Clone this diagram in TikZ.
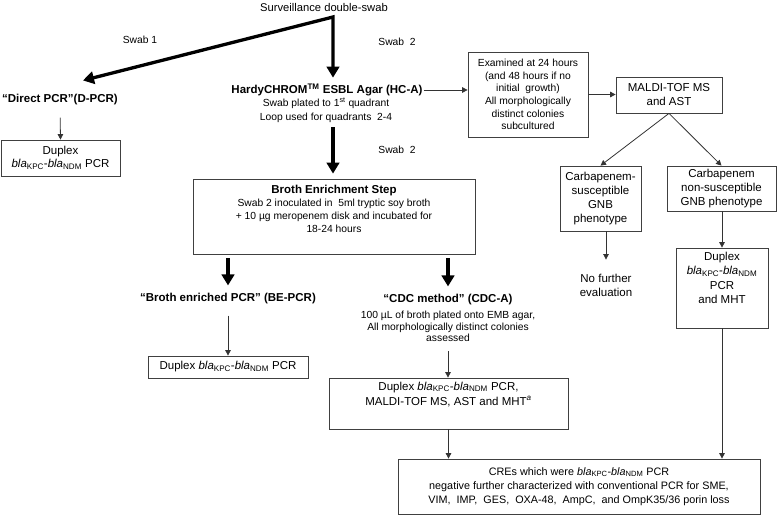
\documentclass[tikz,border=0pt]{standalone}
\usepackage{fontspec}
\setmainfont{Liberation Sans}
\usetikzlibrary{arrows.meta}
\newcommand\fsz[2]{\fontsize{#1}{#2}\selectfont}
\newcommand\bkn{\textit{bla}\textsubscript{KPC}-\textit{bla}\textsubscript{NDM}}
\begin{document}
\begin{tikzpicture}[x=1pt,y=-1pt,
  box/.style={draw=black!75, line width=0.75pt, inner sep=0pt},
  tx/.style={inner sep=1pt, align=center, text=black},
  big/.style={font=\fsz{11.5}{14}},
  sml/.style={font=\fsz{10.3}{13}},
  ttl/.style={font=\bfseries\fsz{11.5}{14}},
  thin/.style={draw=black!80, line width=0.8pt, -{Triangle[length=5.5pt,width=5.5pt]}},
  thk/.style={draw=black, line width=3.3pt, -{Triangle[length=11pt,width=12.5pt]}}]
\useasboundingbox (0,0) rectangle (777,519);

% texts
\node[tx, font=\fsz{11.2}{14}] (surv) at (324,7) {Surveillance double-swab};
\coordinate (sp) at ([xshift=9pt,yshift=-10pt]surv.center);
\node[tx, sml] (s1) at (140,40) {Swab 1};
\node[tx, sml] (s2a) at (397,42) {Swab\ \ 2};
\node[tx, sml] (s2b) at (397,150) {Swab\ \ 2};

\node[tx, ttl] (dpcr) at (60,100) {“Direct PCR”(D-PCR)};
\node[box, tx, big, minimum width=119pt, minimum height=36pt, font=\fsz{11.5}{13.5}] (dbox) at (60.5,158) {Duplex\\\bkn{} PCR};

\node[tx, ttl] (hca) at (327,90) {HardyCHROM\textsuperscript{TM} ESBL Agar (HC-A)};
\node[tx, sml, font=\fsz{10.3}{14}] (hcasub) at (326,110) {Swab plated to 1\textsuperscript{st} quadrant\\Loop used for quadrants\ \ 2-4};

\node[box, tx, sml, font=\fsz{10.3}{12.7}, minimum width=120pt, minimum height=85pt] (exam) at (528,94.5)
  {Examined at 24 hours\\(and 48 hours if no\\initial\ \ growth)\\All morphologically\\distinct colonies\\subcultured};
\node[box, tx, big, minimum width=106pt, minimum height=36pt] (maldi) at (669,95) {MALDI-TOF MS\\and AST};

\node[box, tx, font=\fsz{11.5}{14.3}, minimum width=81pt, minimum height=65pt] (csus) at (600.5,198.5)
  {Carbapenem-\\susceptible\\GNB\\phenotype};
\node[box, tx, font=\fsz{11.5}{14.3}, minimum width=109pt, minimum height=45pt] (cns) at (721.5,188.5)
  {Carbapenem\\non-susceptible\\GNB phenotype};
\node[tx, big] (nofur) at (606,285) {No further\\evaluation};
\node[box, minimum width=92pt, minimum height=80pt] (dupr) at (722,288) {};
\node[tx, font=\fsz{11.5}{14.5}, anchor=north] (duprtxt) at ([yshift=-3pt]dupr.north) {Duplex\\\bkn\\PCR\\and MHT};

\node[box, minimum width=282pt, minimum height=75pt] (broth) at (334,216.5) {};
\node[tx, ttl] (brothttl) at (334,191) {Broth Enrichment Step};
\node[tx, sml, font=\fsz{10.3}{13}] (brothsub) at (334,216)
  {Swab 2 inoculated in\ \ 5ml tryptic soy broth\\+ 10 µg meropenem disk and incubated for\\18-24 hours};

\node[tx, ttl] (bepcr) at (228,299) {“Broth enriched PCR” (BE-PCR)};
\node[tx, ttl] (cdc) at (448,300) {“CDC method” (CDC-A)};
\node[tx, font=\fsz{10.3}{11.7}] (cdcsub) at (448,326.5)
  {100 µL of broth plated onto EMB agar,\\All morphologically distinct colonies\\assessed};
\node[box, tx, big, minimum width=160pt, minimum height=22pt] (dupl) at (228,367) {Duplex \bkn{} PCR};

\node[box, minimum width=239pt, minimum height=51pt] (dupm) at (448.5,403.5) {};
\node[tx, font=\fsz{11.5}{15}, anchor=north] (dupmtxt) at ([yshift=-3pt]dupm.north)
  {Duplex \bkn{} PCR,\\MALDI-TOF MS, AST and MHT\textsuperscript{\textit{a}}};

\node[box, tx, font=\fsz{10.8}{14}, minimum width=362pt, minimum height=55pt] (cre) at (579,486.5)
  {CREs which were \bkn{} PCR\\negative further characterized with conventional PCR for SME,\\VIM,\ \ IMP,\ \ GES,\ \ OXA-48,\ \ AmpC,\ \ and OmpK35/36 porin loss};

% thick connectors
\draw[thk, {Triangle[length=11pt,width=12.5pt]}-{Triangle[length=11pt,width=12.5pt]}, line join=miter]
  ([xshift=23pt,yshift=13pt]dpcr.north) -- (sp) -- ([yshift=5pt]sp |- hca.north);
\draw[thk, shorten <=4pt, shorten >=5pt] (hcasub.south -| sp) -- (broth.north -| sp);
\draw[thk, shorten <=4pt, shorten >=7pt] (bepcr.north |- broth.south) -- (bepcr.north);
\draw[thk, shorten <=4pt, shorten >=7pt] (cdc.north |- broth.south) -- (cdc.north);

% thin connectors
\draw[thin, shorten <=11pt] (dpcr.south) -- (dbox.north);
\draw[thin] (hca.east) -- (hca.east -| exam.west);
\draw[thin] (exam.east) -- (exam.east -| maldi.west);
\draw[thin] (maldi.south) -- (csus.north);
\draw[thin] (maldi.south) -- (cns.north);
\draw[thin, shorten >=13pt] (nofur.north |- csus.south) -- (nofur.north);
\draw[thin] (cns.south -| dupr.north) -- (dupr.north);
\draw[thin] (dupr.south) -- (dupr.south |- cre.north);
\draw[thin, shorten <=10pt] (bepcr.south) -- (dupl.north);
\draw[thin, shorten <=8pt] (cdcsub.south) -- (cdcsub.south |- dupm.north);
\draw[thin] (dupm.south) -- (dupm.south |- cre.north);
\end{tikzpicture}
\end{document}
